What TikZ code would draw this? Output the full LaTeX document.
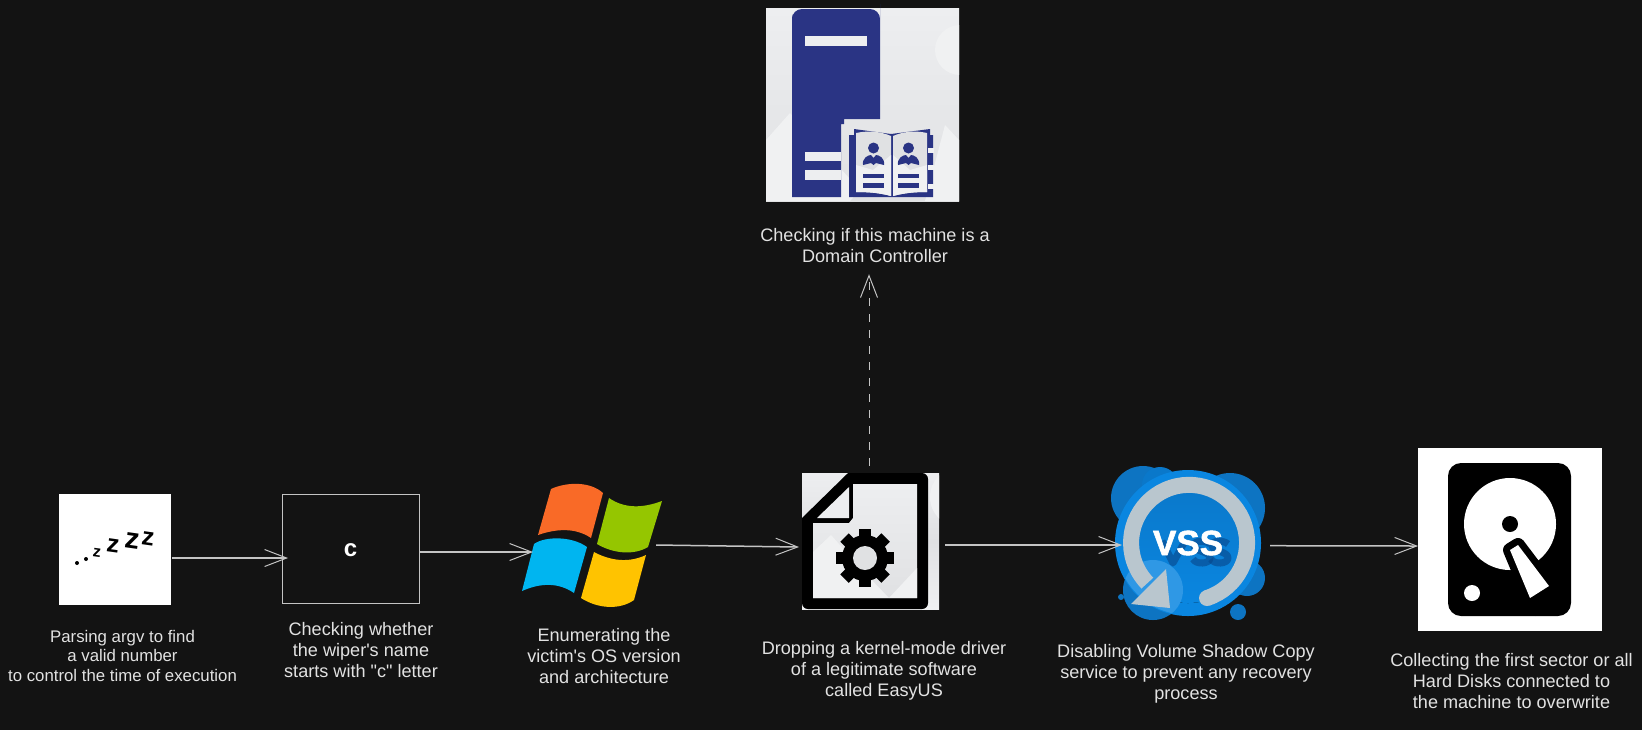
\documentclass[tikz,border=0pt]{standalone}
\usepackage{fontspec}
\setmainfont{Liberation Sans}
\newfontfamily\vssfont{Liberation Sans Bold}[FakeBold=1.6]
\usetikzlibrary{arrows.meta,calc,shapes.geometric}
\definecolor{bgc}{HTML}{131313}
\definecolor{wire}{HTML}{C4C4C4}
\definecolor{txt}{HTML}{E2E2E2}
\definecolor{navy}{HTML}{2A3484}
\definecolor{pale}{HTML}{F0F1F2}
\definecolor{palemid}{HTML}{E0E1E3}
\definecolor{paletop}{HTML}{EDEEF0}
\definecolor{vssa}{HTML}{0A86E0}
\definecolor{vssb}{HTML}{0A78CA}
\definecolor{vssc}{HTML}{0D74C2}
\definecolor{vssd}{HTML}{07468A}
\definecolor{ringc}{HTML}{B9C6CE}
\definecolor{winorange}{HTML}{F96A27}
\definecolor{wingreen}{HTML}{95C600}
\definecolor{winblue}{HTML}{00B5F0}
\definecolor{winyellow}{HTML}{FFC300}
\tikzset{
  x=0.5pt,y=-0.5pt,
  panel/.style={inner sep=0pt,outer sep=0pt,rectangle},
  ghost/.style={inner sep=0pt,outer sep=0pt},
  lbl/.style={inner sep=0pt,outer sep=0pt,align=center,anchor=base,text=txt,font=\fontsize{9.05}{10.5}\selectfont},
  lblsmall/.style={lbl,font=\fontsize{8.4}{9.75}\selectfont},
  arr/.style={draw=wire,line width=0.75pt,-{Straight Barb[length=11pt,width=8.5pt,line width=0.5pt]}},
  dasharr/.style={draw=wire,line width=0.5pt,dash pattern=on 4pt off 4pt,-{Straight Barb[length=11pt,width=8.5pt,line width=0.5pt]}},
  zed/.style={inner sep=0pt,outer sep=0pt,rotate=-8,text=black},
  shadow/.style={draw=vssd,line width=3.5pt,line join=round,opacity=.6}
}
\begin{document}
\begin{tikzpicture}
\useasboundingbox (0,0) rectangle (1642,730);
\fill[bgc] (0,0) rectangle (1642,730);

% ---------- sleep panel
\node[panel,fill=white,minimum width=56pt,minimum height=55.5pt] (sleep) at (115,549.5) {};
\fill (77,563) circle[radius=2];
\fill (86,559) circle[radius=2];
\node[zed,font=\bfseries\fontsize{8}{8}\selectfont] at (97,553) {z};
\node[zed,font=\bfseries\fontsize{12.5}{13}\selectfont] at (113,546) {z};
\node[zed,font=\bfseries\fontsize{14.5}{15}\selectfont] at (132,541) {z};
\node[zed,font=\bfseries\fontsize{12.5}{13}\selectfont] at (148,539) {z};

% ---------- c box
\node[panel,draw=wire,line width=0.5pt,minimum width=68.5pt,minimum height=54.5pt] (cbox) at (350.5,548.5) {};
\node[ghost,text=white,font=\bfseries\fontsize{12}{12}\selectfont] (cletter) at (350.5,550) {c};

% ---------- windows logo
\node[ghost,minimum width=70pt,minimum height=62.5pt] (win) at (592,545) {};
\fill[winorange] (551,489) .. controls (566,482) and (590,481) .. (603,493) -- (591,538) .. controls (575,527) and (555,529) .. (538,535) -- cycle;
\fill[wingreen] (609,498) .. controls (625,509) and (643,508) .. (662,501) -- (648,547) .. controls (633,556) and (612,553) .. (597,544) -- cycle;
\fill[winblue] (534,544) .. controls (545,536) and (572,536) .. (587,547) -- (574,593) .. controls (558,582) and (540,583) .. (522,591) -- cycle;
\fill[winyellow] (594,552) .. controls (605,558) and (625,565) .. (646,555) -- (634,600) .. controls (620,610) and (598,609) .. (581,598) -- cycle;

% ---------- document panel
\node[panel,minimum width=68.5pt,minimum height=68pt,top color=paletop,bottom color=pale,middle color=palemid] (docp) at (870.5,541) {};
\begin{scope}
  \clip (802,473) rectangle (939,609);
  \fill[pale] (960,497) circle[radius=30];
  \fill[black] (802,518) -- (848,473) {[rounded corners=3pt] -- (928,473) -- (928,609) -- (802,609)} -- cycle;
\end{scope}
\fill[top color=paletop,bottom color=palemid] (853,484) -- (917,484) -- (917,598) -- (813,598) -- (813,523) -- (849,523) -- (853,518) -- cycle;
\fill[pale] (813,552) -- (831,535) -- (862,570) -- (889,598) -- (813,598) -- cycle;
\fill[pale] (889,598) -- (917,568) -- (917,598) -- cycle;
\fill[paletop] (849,487) -- (817,518) -- (849,518) -- cycle;
\foreach \a in {0,45,...,315}
  \fill[black,rotate around={\a:(865,558)}] (859,529) rectangle (871,545);
\fill[black] (865,558) circle[radius=23];
\fill[palemid] (865,558) circle[radius=12];

% ---------- domain controller panel
\node[panel,minimum width=96.5pt,minimum height=96.5pt,top color=paletop,bottom color=palemid] (srvp) at (862.5,104.5) {};
\begin{scope}
  \clip (766,8) rectangle (959,201);
  \fill[pale] (766,140) -- (790,113) -- (860,190) -- (850,201) -- (766,201) -- cycle;
  \fill[pale] (960,50) circle[radius=25];
  \fill[pale] (925,201) -- (945,125) -- (959,140) -- (959,201) -- cycle;
\end{scope}
\fill[navy] (792,197) -- (792,14) {[rounded corners=5pt] -- (792,9) -- (880,9) -- (880,14)} -- (880,119) -- (844,119) -- (844,124) -- (841,124) -- (841,197) -- cycle;
\fill[paletop] (805,36) rectangle (867,46);
\fill[paletop] (805,152) rectangle (841,161);
\fill[paletop] (805,170) rectangle (841,180);
% book
\fill[navy] (849,135) -- (854,135) -- (854,129) -- (891,134) -- (930,129) -- (930,135) -- (933,135) -- (933,197) -- (849,197) -- cycle;
\fill[pale] (928,148) rectangle (934,152.5);
\fill[pale] (928,165) rectangle (934,170);
\fill[pale] (928,184) rectangle (934,188.5);
\fill[palemid] (856,133) .. controls (870,130) and (882,132) .. (891,136) -- (891,196) .. controls (880,193) and (870,192) .. (856,192) -- cycle;
\fill[palemid] (893,136) .. controls (902,132) and (914,130) .. (927,133) -- (927,192) .. controls (914,192) and (904,193) .. (893,196) -- cycle;
\fill[pale] (856,165) -- (873,170) -- (891,155) -- (891,196) .. controls (880,193) and (870,192) .. (856,192) -- cycle;
\fill[pale] (893,155) -- (910,170) -- (927,165) -- (927,192) .. controls (914,192) and (904,193) .. (893,196) -- cycle;
\foreach \d in {0,35}{
  \begin{scope}[xshift=\d*0.5pt]
    \fill[navy] (873.5,148) circle[radius=5.5];
    \fill[navy] (863,165) .. controls (862,158) and (868,155) .. (871,155) -- (873.5,158) -- (876,155) .. controls (879,155) and (885,158) .. (884,165) -- (876,163) -- (873.5,165) -- (871,163) -- cycle;
    \fill[navy] (863,174) rectangle (884,178);
    \fill[navy] (863,183) rectangle (884,187.5);
  \end{scope}
}

% ---------- VSS
\fill[vssc] (1143,498) circle[radius=32];
\fill[vssb] (1160,485) circle[radius=18];
\fill[vssc] (1230,508) circle[radius=35];
\fill[vssc] (1247,578) circle[radius=18];
\fill[vssc] (1153,590) circle[radius=30];
\fill[vssc] (1238,612) circle[radius=8];
\fill[vssc] (1121,597) circle[radius=3];
\node[ghost,circle,minimum size=73pt,fill=vssa] (vss) at (1188,543) {};
\fill[top color=vssb,bottom color=vssa] (1188,543) circle[radius=60];
\begin{scope}
  \clip (1188,543) circle[radius=72];
  \fill[vssa!85!white] (1153,590) circle[radius=30];
\end{scope}
\draw[ringc,line width=8pt] (1207,598) arc[start angle=72,end angle=-224,radius=58];
\fill[ringc] (1207,598) circle[radius=8];
\fill[ringc] (1166,569) -- (1170,608) -- (1131,604) -- cycle;
% drop shadow of the VSS lettering
\draw[shadow] (1162,541) -- (1173,563) -- (1185,541);
\foreach \c in {1202,1220}
  \draw[shadow] (\c+8,544) .. controls (\c+4,540) and (\c-9,540) .. (\c-8,546) .. controls (\c-7,552) and (\c+8,551) .. (\c+8,558) .. controls (\c+8,564) and (\c-6,565) .. (\c-9,559);
\node[ghost,text=white,font=\vssfont\fontsize{17.5}{18}\selectfont] (vsstext) at (1188,543) {VSS};

% ---------- disk panel
\node[panel,fill=white,minimum width=92pt,minimum height=91.5pt] (disk) at (1510,539.5) {};
\fill[black,rounded corners=6.5pt] (1448,463) rectangle (1571,616);
\fill[white] (1510,524) circle[radius=46];
\fill[black] (1510,524) circle[radius=8];
\draw[black,fill=black,line width=7pt,line join=round] (1518,545) -- (1510,550) -- (1530,598) -- (1549,586) -- cycle;
\fill[black] (1530,598) -- (1549,586) -- (1560,600) -- (1535,616) -- cycle;
\fill[white] (1518,545) -- (1510,550) -- (1530,598) -- (1549,586) -- cycle;
\fill[white] (1472,593) circle[radius=8];

% ---------- labels
\node[lblsmall] (lsleep) at (122.5,681) {Parsing argv to find\\a valid number\\to control the time of execution};
\node[lbl] (lcheck) at (361,677) {Checking whether\\the wiper\textquotesingle s name\\starts with \textquotedbl c\textquotedbl\ letter};
\node[lbl] (lenum) at (604,683) {Enumerating the\\victim\textquotesingle s OS version\\and architecture};
\node[lbl] (ldrop) at (884,696) {Dropping a kernel-mode driver\\of a legitimate software\\called EasyUS};
\node[lbl] (lvss) at (1186,699) {Disabling Volume Shadow Copy\\service to prevent any recovery\\process};
\node[lbl] (ldisk) at (1511.5,708) {Collecting the first sector or all\\Hard Disks connected to\\the machine to overwrite};
\node[lbl] (ldc) at (875,262) {Checking if this machine is a\\Domain Controller};

% ---------- connectors
\draw[arr] ($(sleep.east)+(1,8.5)$) -- ($(cbox.west)+(6,9.5)$);
\draw[arr] ($(cbox.east)+(0,3.5)$) -- ($(win.west)+(11,7)$);
\draw[arr] ($(win.east)+(-6,0)$) -- ($(docp.west)+(-3,6)$);
\draw[arr] ($(docp.east)+(6,4)$) -- ($(vss.west)+(7,2)$);
\draw[arr] ($(vss.east)+(9,2.7)$) -- ($(disk.west)+(0,6.5)$);
\draw[dasharr] ($(docp.north)+(-1.5,-7)$) -- ($(docp.north |- ldc.south)+(-1.5,12)$);
\end{tikzpicture}
\end{document}
